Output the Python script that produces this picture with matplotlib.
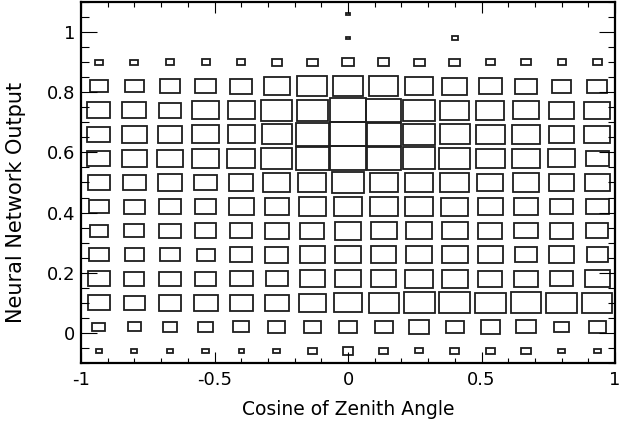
import matplotlib
matplotlib.use('Agg')
import matplotlib.pyplot as plt
from matplotlib.patches import Rectangle
from matplotlib.ticker import MultipleLocator
import numpy as np

# 2D histogram drawn with boxes, 15 x 15 bins
x_edges = np.linspace(-1.0, 1.0, 16)
y_edges = np.linspace(-0.1, 1.1, 16)

# relative box size per bin (1 = fills the bin), rows from bottom to top
box_size = [
    [0.17, 0.17, 0.17, 0.20, 0.15, 0.20, 0.25, 0.30, 0.27, 0.21, 0.25, 0.25, 0.26, 0.20, 0.20],  # -0.06
    [0.36, 0.37, 0.40, 0.43, 0.45, 0.47, 0.49, 0.49, 0.50, 0.56, 0.52, 0.55, 0.54, 0.44, 0.48],  # 0.02
    [0.62, 0.60, 0.64, 0.67, 0.64, 0.69, 0.77, 0.80, 0.84, 0.86, 0.86, 0.85, 0.86, 0.85, 0.84],  # 0.10
    [0.61, 0.56, 0.59, 0.59, 0.64, 0.62, 0.72, 0.71, 0.72, 0.77, 0.73, 0.67, 0.67, 0.64, 0.70],  # 0.18
    [0.56, 0.54, 0.55, 0.51, 0.61, 0.65, 0.69, 0.71, 0.72, 0.73, 0.73, 0.71, 0.64, 0.71, 0.60],  # 0.26
    [0.50, 0.56, 0.59, 0.60, 0.61, 0.66, 0.67, 0.75, 0.73, 0.73, 0.73, 0.67, 0.65, 0.66, 0.61],  # 0.34
    [0.57, 0.58, 0.59, 0.60, 0.70, 0.68, 0.77, 0.78, 0.79, 0.78, 0.75, 0.72, 0.69, 0.65, 0.64],  # 0.42
    [0.61, 0.66, 0.67, 0.66, 0.69, 0.75, 0.79, 0.89, 0.79, 0.80, 0.81, 0.73, 0.75, 0.70, 0.71],  # 0.50
    [0.64, 0.71, 0.72, 0.77, 0.80, 0.86, 0.93, 1.00, 0.96, 0.91, 0.86, 0.80, 0.79, 0.75, 0.65],  # 0.58
    [0.65, 0.69, 0.70, 0.75, 0.75, 0.83, 0.93, 1.00, 0.96, 0.90, 0.83, 0.80, 0.79, 0.70, 0.73],  # 0.66
    [0.65, 0.67, 0.64, 0.75, 0.75, 0.86, 0.88, 1.00, 0.98, 0.89, 0.81, 0.79, 0.75, 0.72, 0.72],  # 0.74
    [0.50, 0.52, 0.57, 0.58, 0.63, 0.73, 0.84, 0.84, 0.81, 0.77, 0.70, 0.65, 0.64, 0.55, 0.55],  # 0.82
    [0.22, 0.22, 0.23, 0.23, 0.23, 0.29, 0.30, 0.34, 0.33, 0.30, 0.30, 0.25, 0.27, 0.23, 0.26],  # 0.90
    [0, 0, 0, 0, 0, 0, 0, 0.10, 0, 0, 0.16, 0, 0, 0, 0],  # 0.98
    [0, 0, 0, 0, 0, 0, 0, 0.09, 0, 0, 0, 0, 0, 0, 0],  # 1.06
]

x_ticks = [-1, -0.5, 0, 0.5, 1]
x_ticklabels = ['-1', '-0.5', '0', '0.5', '1']
y_ticks = [0, 0.2, 0.4, 0.6, 0.8, 1]
y_ticklabels = ['0', '0.2', '0.4', '0.6', '0.8', '1']

fig = plt.figure(figsize=(6.19, 4.30), dpi=100)
ax = fig.add_axes([81 / 619, 1 - 363 / 430, 534 / 619, 361 / 430])

sizes = np.array(box_size)
x_cent = 0.5 * (x_edges[:-1] + x_edges[1:])
y_cent = 0.5 * (y_edges[:-1] + y_edges[1:])
bw = x_edges[1] - x_edges[0]
bh = y_edges[1] - y_edges[0]
for j, yc in enumerate(y_cent):
    for i, xc in enumerate(x_cent):
        s = sizes[j, i]
        if s <= 0:
            continue
        w, h = s * bw, s * bh
        ax.add_patch(Rectangle((xc - w / 2, yc - h / 2), w, h, fill=False,
                               edgecolor='#1e1e1e', linewidth=1.3))

ax.set_xlim(-1, 1)
ax.set_ylim(-0.1, 1.1)
ax.set_xticks(x_ticks)
ax.set_xticklabels(x_ticklabels)
ax.set_yticks(y_ticks)
ax.set_yticklabels(y_ticklabels)
ax.xaxis.set_minor_locator(MultipleLocator(0.1))
ax.yaxis.set_minor_locator(MultipleLocator(0.05))

ax.tick_params(axis='both', which='both', direction='in', top=True, right=True,
               width=0.8, colors='black', labelsize=13)
ax.tick_params(axis='x', which='major', length=8, pad=6)
ax.tick_params(axis='x', which='minor', length=3.6)
ax.tick_params(axis='y', which='major', length=11.5, pad=4)
ax.tick_params(axis='y', which='minor', length=5.4)
for sp in ax.spines.values():
    sp.set_linewidth(1.6)

ax.set_xlabel('Cosine of Zenith Angle', fontsize=13.5, labelpad=8)
ax.set_ylabel('Neural Network Output', fontsize=15)
ax.yaxis.set_label_coords(-0.103, 0.446)

fig.savefig('out.png', dpi=100)
